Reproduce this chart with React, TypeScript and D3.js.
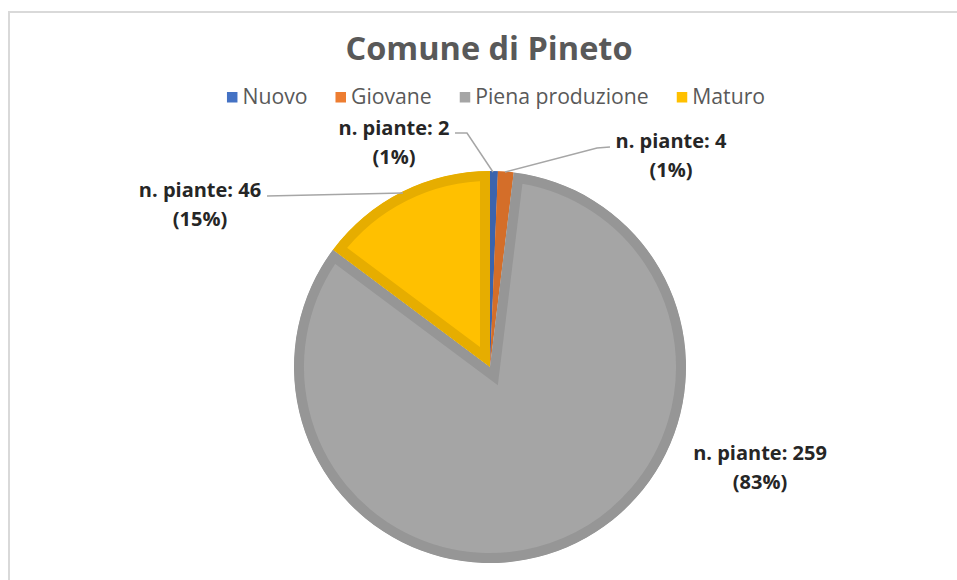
import { useEffect, useRef } from "react";
import * as d3 from "d3";

const categories = ["Nuovo", "Giovane", "Piena produzione", "Maturo"];
const counts = [2, 4, 259, 46];
const percents = ["1%", "1%", "83%", "15%"];
const fills = ["#4472c4", "#ed7d31", "#a5a5a5", "#ffc000"];
const rims = ["#3b64ad", "#d46e29", "#969696", "#e6ad00"];

// label centre x, first baseline, and leader polyline (page coords)
const labelLayout = [
  { x: 394, y: 135, line: [[455, 133], [467, 133], [493, 172]] },
  { x: 671, y: 148, line: [[610, 147], [597, 148], [505, 172]] },
  { x: 760, y: 460, line: [] as number[][] },
  { x: 200, y: 197, line: [[267, 196], [403, 193]] },
];

const W = 957;
const H = 580;
const FONT = "'Open Sans', 'Noto Sans', sans-serif";

const App = () => {
  const ref = useRef<SVGSVGElement>(null);

  useEffect(() => {
    const svg = d3.select(ref.current);
    svg.selectAll("*").remove();

    svg
      .append("rect")
      .attr("x", 9)
      .attr("y", 12)
      .attr("width", W)
      .attr("height", H)
      .attr("fill", "#fff")
      .attr("stroke", "#d9d9d9")
      .attr("stroke-width", 2);

    svg
      .append("text")
      .attr("x", 489)
      .attr("y", 60)
      .attr("text-anchor", "middle")
      .attr("font-family", FONT)
      .attr("font-size", 32.5)
      .attr("font-weight", "bold")
      .attr("fill", "#595959")
      .text("Comune di Pineto");

    // legend, laid out by measuring text
    const legend = svg.append("g");
    let lx = 0;
    categories.forEach((c, i) => {
      const g = legend.append("g").attr("transform", `translate(${lx},0)`);
      g.append("rect")
        .attr("x", 0)
        .attr("y", -5)
        .attr("width", 10.5)
        .attr("height", 10.5)
        .attr("fill", fills[i]);
      const t = g
        .append("text")
        .attr("x", 15.5)
        .attr("y", 6.5)
        .attr("font-family", FONT)
        .attr("font-size", 21.2)
        .attr("fill", "#595959")
        .text(c);
      const w = (t.node() as SVGTextElement).getComputedTextLength();
      lx += 15.5 + w + 28;
    });
    const legendW = lx - 28;
    legend.attr("transform", `translate(${496 - legendW / 2},97)`);

    // pie
    const cx = 490;
    const cy = 367;
    const r = 196;
    const pie = d3
      .pie<number>()
      .sort(null)
      .value((d) => d);
    const arcs = pie(counts);
    const arc = d3.arc<d3.PieArcDatum<number>>().innerRadius(0).outerRadius(r);

    const defs = svg.append("defs");
    const pg = svg.append("g").attr("transform", `translate(${cx},${cy})`);
    arcs.forEach((a, i) => {
      const id = `slice-clip-${i}`;
      defs
        .append("clipPath")
        .attr("id", id)
        .append("path")
        .attr("d", arc(a) as string);
      // stroke is doubled and clipped so only the inner rim shows
      pg.append("path")
        .attr("d", arc(a) as string)
        .attr("fill", fills[i])
        .attr("stroke", rims[i])
        .attr("stroke-width", 20)
        .attr("clip-path", `url(#${id})`);
    });

    // leader lines
    const line = d3.line<number[]>().x((d) => d[0]).y((d) => d[1]);
    labelLayout.forEach((l) => {
      if (l.line.length) {
        svg
          .append("path")
          .attr("d", line(l.line) as string)
          .attr("fill", "none")
          .attr("stroke", "#a6a6a6")
          .attr("stroke-width", 1.5);
      }
    });

    // data labels
    counts.forEach((v, i) => {
      const l = labelLayout[i];
      const t = svg
        .append("text")
        .attr("text-anchor", "middle")
        .attr("font-family", FONT)
        .attr("font-size", 20)
        .attr("font-weight", "bold")
        .attr("fill", "#262626");
      t.append("tspan").attr("x", l.x).attr("y", l.y).text(`n. piante: ${v}`);
      t.append("tspan").attr("x", l.x).attr("y", l.y + 28.5).text(`(${percents[i]})`);
    });
  }, []);

  return (
    <svg
      ref={ref}
      width={W}
      height={H}
      style={{ position: "absolute", left: 0, top: 0 }}
    />
  );
};

export default App;
